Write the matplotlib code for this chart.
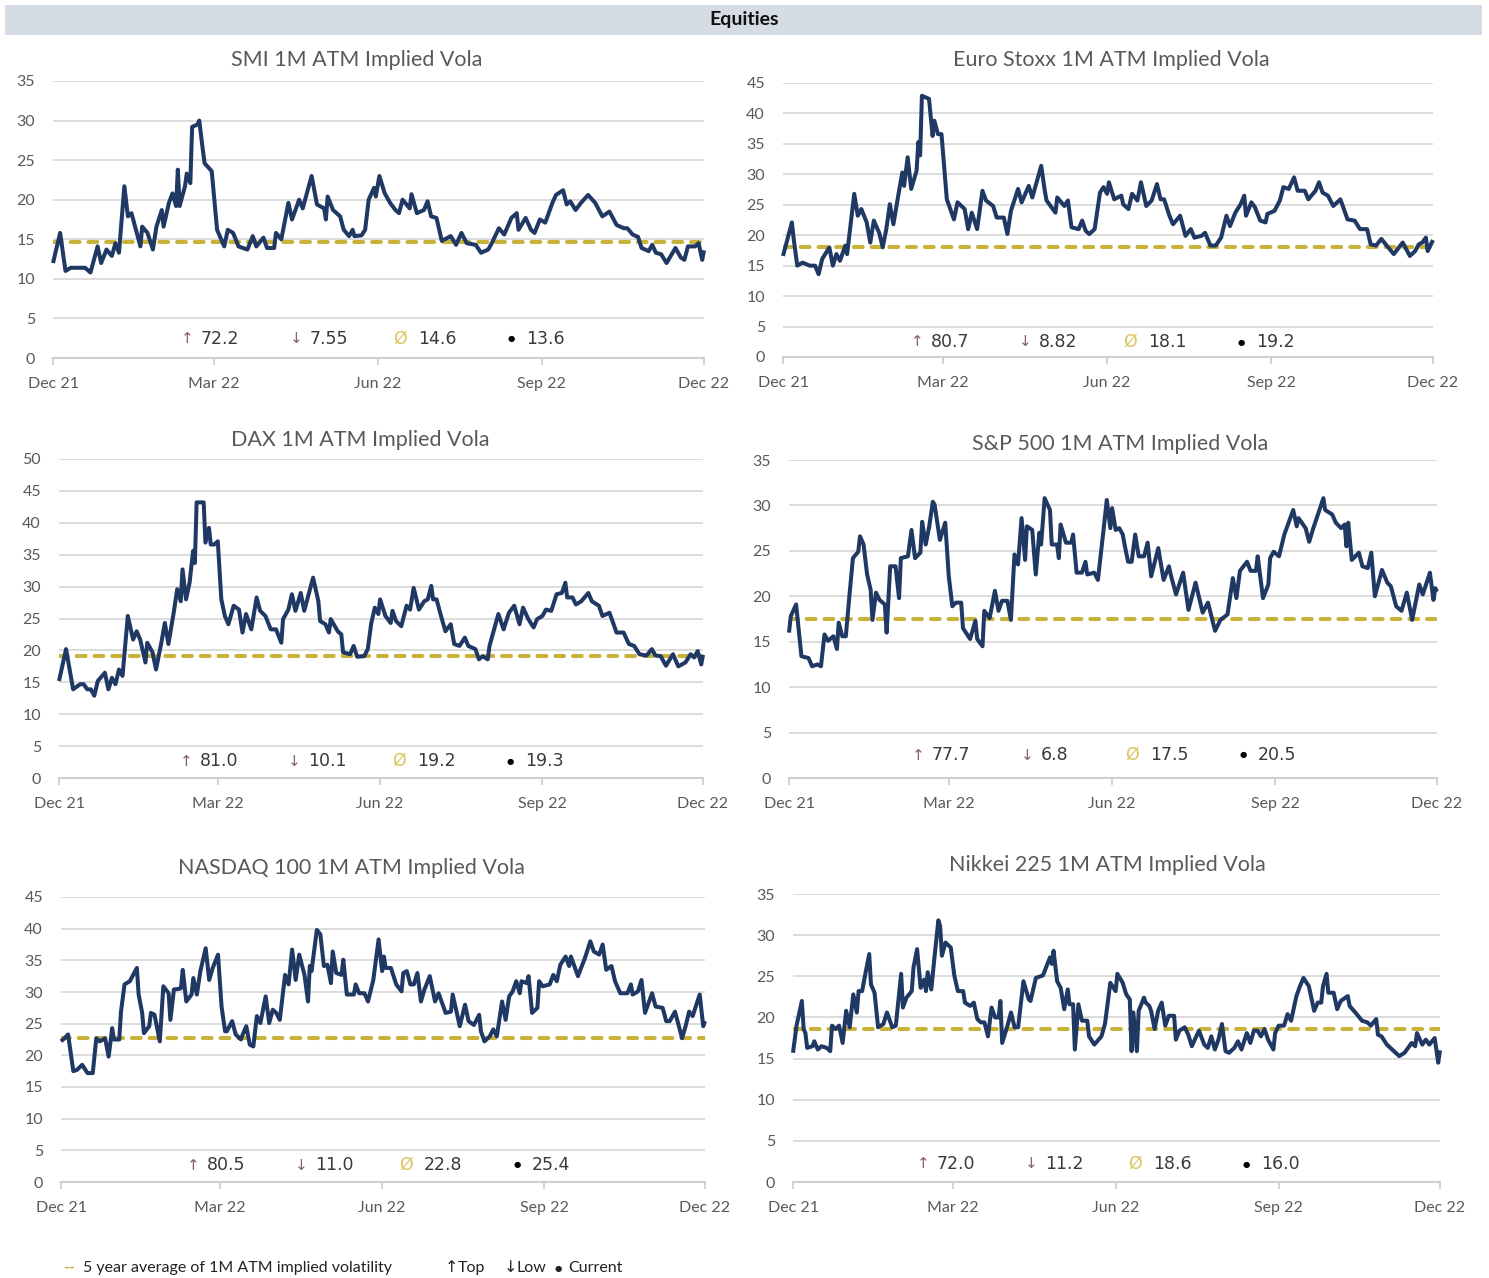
import numpy as np
import pandas as pd
import matplotlib
matplotlib.use("Agg")
import matplotlib.pyplot as plt
from matplotlib.patches import Rectangle

plt.rcParams['font.family'] = ['Lato', 'DejaVu Sans']

# ---------------- data (day offset from 2021-12-01, implied vol) ----------------
smi = [(0,12.0),(4,15.8),(7,11.0),(10,11.4),(14,11.4),(18,11.4),(21,10.8),(25,14.1),(27,12.0),(30,13.7),(33,12.9),(35,14.5),(37,13.3),(40,21.7),(42,17.9),(44,18.3),(46,16.6),(49,14.1),(50,16.6),(53,15.8),(56,13.7),(58,16.6),(61,18.7),(62,16.6),(65,19.6),(67,20.8),(69,19.2),(70,23.8),(71,19.2),(74,21.7),(75,23.3),(77,22.1),(78,29.2),(81,29.5),(82,30.0),(84,26.3),(85,24.6),(89,23.6),(92,16.2),(96,14.1),(98,16.2),(101,15.8),(104,14.1),(109,13.7),(112,15.4),(114,14.1),(118,15.2),(120,13.9),(124,13.9),(125,15.8),(128,15.0),(132,19.6),(134,17.5),(138,20.0),(140,18.9),(145,23.0),(148,19.4),(152,18.9),(153,17.5),(154,20.4),(157,18.7),(161,17.9),(163,16.2),(166,15.4),(168,16.2),(169,15.4),(173,15.5),(175,16.2),(177,20.0),(180,21.5),(181,20.4),(183,23.0),(186,20.8),(189,19.6),(192,18.7),(194,18.3),(196,20.0),(200,18.9),(201,20.7),(204,18.3),(208,18.7),(210,19.8),(212,17.9),(215,17.7),(218,14.8),(223,15.4),(226,14.3),(229,15.8),(232,14.5),(237,14.3),(240,13.3),(244,13.7),(246,14.5),(250,16.4),(253,15.6),(257,17.7),(260,18.3),(261,16.2),(265,17.7),(268,16.2),(270,15.8),(273,17.5),(276,17.1),(280,19.6),(282,20.6),(286,21.2),(288,19.4),(290,19.8),(293,18.7),(296,19.6),(300,20.6),(304,19.6),(308,17.9),(312,18.5),(316,16.8),(320,16.4),(322,16.4),(325,15.6),(328,15.3),(330,13.9),(334,13.5),(336,14.3),(338,13.3),(341,13.1),(344,12.0),(349,13.9),(352,12.7),(354,12.4),(356,14.1),(360,14.1),(362,14.5),(364,12.4),(365,13.6)]

euro = [(0,16.6),(5,22.1),(6,19.4),(8,15.0),(11,15.5),(15,15.0),(18,15.0),(20,13.6),(22,16.1),(26,18.0),(28,15.0),(30,16.9),(32,15.8),(35,18.3),(36,16.9),(40,26.8),(42,23.2),(44,24.3),(47,22.1),(49,18.8),(51,22.4),(54,20.4),(56,18.0),(58,21.0),(60,25.1),(62,21.8),(65,27.0),(67,30.3),(68,28.1),(70,32.8),(72,27.6),(75,30.6),(76,35.3),(77,33.1),(78,42.9),(82,42.4),(84,36.3),(85,38.8),(87,36.6),(89,36.6),(92,25.9),(96,22.6),(98,25.4),(102,24.3),(104,21.0),(106,23.7),(109,21.0),(112,27.3),(114,25.7),(118,24.8),(120,22.9),(124,22.9),(126,20.2),(128,24.0),(132,27.6),(134,25.4),(138,28.1),(140,26.2),(145,31.4),(147,27.3),(148,25.7),(153,23.7),(154,26.2),(158,24.8),(160,25.7),(162,21.3),(166,21.0),(168,22.4),(170,20.7),(172,20.2),(175,21.0),(178,27.0),(180,27.9),(182,26.8),(183,28.7),(186,25.9),(190,26.5),(191,25.1),(194,24.3),(196,26.8),(199,25.7),(201,28.7),(204,24.8),(207,25.7),(210,28.4),(212,25.9),(214,25.9),(217,23.2),(219,21.8),(223,23.2),(226,19.9),(229,21.0),(231,19.6),(235,19.9),(237,20.4),(240,18.3),(243,18.3),(246,19.6),(249,23.2),(251,21.5),(254,23.7),(257,25.1),(259,26.5),(260,23.2),(263,25.4),(265,24.6),(268,22.4),(271,22.1),(272,23.5),(276,24.0),(279,25.7),(281,27.9),(284,27.6),(287,29.5),(289,27.3),(293,27.3),(295,25.9),(299,27.3),(301,28.7),(303,27.0),(306,26.5),(309,24.8),(313,25.9),(317,22.6),(321,22.4),(324,21.0),(328,21.0),(330,18.5),(333,18.3),(336,19.4),(339,18.3),(343,16.9),(348,18.8),(352,16.6),(355,17.4),(357,18.5),(359,18.8),(361,19.6),(362,17.4),(365,19.2)]

dax = [(0,15.2),(4,20.2),(8,13.9),(12,14.7),(14,14.7),(16,13.9),(18,13.9),(20,12.9),(22,15.2),(26,16.5),(28,13.9),(30,15.7),(32,14.7),(34,17.0),(36,16.0),(39,25.4),(42,21.7),(44,23.0),(46,21.7),(49,18.1),(50,21.2),(53,19.7),(55,17.0),(58,21.2),(60,24.3),(62,21.0),(65,25.9),(67,29.6),(69,27.7),(70,32.7),(72,28.0),(74,30.6),(76,35.6),(77,33.7),(78,43.2),(82,43.2),(83,36.9),(85,39.2),(86,36.6),(88,36.6),(90,37.1),(92,28.0),(94,25.4),(96,24.1),(99,27.0),(102,26.4),(104,22.8),(106,25.7),(109,23.3),(112,28.3),(114,26.2),(117,25.4),(120,23.3),(123,23.3),(126,21.2),(127,24.9),(130,26.4),(132,28.8),(134,26.2),(137,29.0),(139,26.2),(141,28.3),(144,31.4),(147,27.7),(148,24.6),(151,24.1),(153,22.8),(154,24.9),(158,23.0),(160,22.5),(161,19.7),(165,19.4),(167,20.7),(169,19.0),(173,19.1),(175,20.2),(177,24.3),(179,26.7),(181,25.7),(182,28.0),(185,25.4),(188,24.3),(189,26.2),(191,24.6),(194,23.8),(197,27.0),(199,26.4),(201,29.8),(204,26.4),(207,27.7),(209,28.0),(211,30.1),(212,28.0),(214,28.0),(216,25.9),(219,23.0),(222,24.1),(224,21.0),(227,20.7),(230,22.0),(232,20.7),(236,20.2),(238,18.6),(240,19.1),(243,18.6),(244,20.7),(249,25.7),(252,23.3),(255,25.9),(258,27.0),(261,24.1),(263,26.7),(266,24.9),(269,23.6),(271,24.9),(274,25.4),(276,26.4),(279,26.2),(282,28.8),(285,29.0),(287,30.6),(288,28.3),(291,28.3),(293,27.2),(296,27.7),(300,29.0),(302,27.7),(306,27.0),(308,25.4),(312,25.9),(316,22.8),(320,22.8),(323,21.0),(326,20.7),(329,19.4),(333,19.2),(336,20.2),(338,19.2),(341,19.1),(344,17.6),(348,19.4),(351,17.5),(355,18.1),(358,19.4),(360,18.9),(362,19.9),(364,17.8),(365,19.3)]

spx = [(0,16.0),(1,17.8),(4,19.1),(7,13.4),(11,13.2),(13,12.3),(16,12.5),(18,12.3),(20,15.8),(22,15.1),(25,15.6),(27,14.2),(28,17.1),(30,15.6),(32,15.6),(34,20.0),(36,24.2),(39,24.9),(40,26.6),(42,25.7),(44,22.4),(46,20.7),(47,17.4),(49,20.4),(51,19.6),(54,19.1),(55,16.0),(57,23.3),(60,23.3),(62,19.8),(63,24.2),(67,24.4),(69,27.3),(71,24.2),(74,24.8),(75,28.2),(77,25.7),(79,27.7),(81,30.4),(82,30.1),(85,26.2),(88,28.1),(90,22.2),(92,18.9),(94,19.3),(97,19.3),(98,16.5),(102,15.3),(105,17.3),(106,15.3),(109,14.5),(110,18.4),(113,17.6),(116,20.6),(118,18.4),(120,19.5),(123,19.5),(125,17.4),(127,24.6),(129,23.5),(131,28.6),(133,24.0),(134,27.7),(137,27.3),(139,22.4),(141,27.0),(142,25.7),(144,30.8),(147,29.5),(148,25.7),(151,25.7),(152,24.2),(153,27.9),(156,25.9),(159,25.9),(160,26.8),(162,22.6),(165,22.6),(167,23.8),(168,22.4),(172,22.6),(174,21.8),(177,27.0),(179,30.6),(181,27.5),(182,29.7),(184,27.3),(186,27.5),(188,26.8),(189,25.7),(191,23.8),(193,23.8),(195,26.8),(197,24.4),(200,24.4),(202,25.9),(204,22.2),(208,25.3),(211,21.8),(214,23.3),(215,22.4),(218,20.2),(222,22.6),(225,18.5),(229,21.5),(233,18.2),(236,19.3),(240,16.2),(243,17.4),(247,18.0),(250,22.0),(252,19.8),(254,22.8),(258,23.8),(260,22.8),(263,22.8),(264,24.4),(267,19.8),(270,21.3),(271,24.2),(273,24.9),(276,24.4),(279,26.8),(284,29.5),(286,27.7),(287,28.6),(291,27.5),(293,26.0),(295,27.3),(301,30.8),(302,29.5),(306,29.0),(308,28.1),(311,27.5),(313,27.9),(314,25.5),(315,28.1),(317,24.0),(321,24.8),(323,23.3),(326,23.1),(328,24.8),(330,20.0),(334,22.9),(337,21.5),(339,21.1),(342,18.9),(345,18.4),(348,20.4),(351,17.4),(355,21.3),(357,20.2),(361,22.6),(363,19.6),(364,20.9),(365,20.5)]

ndx = [(0,22.2),(2,22.7),(4,23.3),(7,17.5),(9,17.7),(12,18.5),(15,17.2),(18,17.2),(20,22.7),(22,22.2),(25,22.7),(27,19.8),(29,24.3),(30,22.5),(33,22.5),(34,26.9),(36,31.2),(39,31.7),(43,33.8),(44,29.6),(46,26.7),(47,23.5),(50,24.6),(51,26.7),(53,26.4),(56,22.2),(58,30.9),(61,29.8),(62,25.6),(64,30.4),(67,30.5),(68,30.6),(69,33.5),(71,28.5),(74,29.6),(75,32.2),(77,29.6),(79,33.3),(82,36.9),(84,31.9),(86,33.8),(89,35.9),(91,27.7),(93,23.8),(94,23.8),(97,25.4),(99,23.3),(102,22.5),(103,23.3),(105,24.6),(107,21.7),(109,21.4),(111,26.2),(113,25.1),(116,29.3),(118,25.1),(120,27.2),(122,26.7),(124,25.6),(127,32.7),(129,31.2),(131,36.7),(133,31.9),(135,35.9),(138,32.7),(140,28.5),(141,34.1),(142,33.3),(145,39.8),(147,39.1),(149,34.1),(151,34.3),(153,31.4),(154,36.4),(156,33.0),(159,32.7),(160,35.1),(162,29.6),(166,29.6),(167,31.2),(169,29.8),(172,29.8),(174,28.5),(177,31.9),(180,38.3),(182,33.3),(183,35.6),(184,33.8),(187,33.8),(190,31.2),(193,30.1),(194,33.0),(196,33.3),(198,31.2),(200,31.2),(202,33.0),(204,28.5),(206,30.4),(209,32.5),(212,28.5),(214,29.8),(218,26.7),(221,26.9),(222,29.6),(226,24.6),(229,28.0),(231,25.4),(234,24.8),(237,26.4),(238,23.8),(240,22.2),(243,23.0),(245,24.1),(247,23.0),(250,28.5),(252,25.6),(254,29.3),(256,30.1),(258,31.7),(260,29.8),(261,31.7),(264,31.4),(265,32.5),(267,26.7),(270,27.5),(271,31.7),(273,30.9),(277,31.2),(279,32.7),(281,31.7),(283,34.3),(286,35.6),(288,34.1),(289,35.6),(293,32.5),(297,35.4),(300,38.0),(302,36.4),(305,35.9),(307,37.5),(309,33.5),(312,34.1),(314,31.7),(317,29.8),(321,29.8),(323,31.2),(324,29.6),(327,30.1),(329,31.9),(331,26.7),(335,29.8),(337,27.7),(341,27.5),(343,25.4),(345,25.4),(348,26.9),(352,22.7),(354,24.6),(356,26.9),(358,26.2),(362,29.6),(364,24.6),(365,25.4)]

nky = [(0,15.7),(2,19.0),(5,22.0),(6,18.6),(7,18.1),(8,16.3),(11,16.5),(12,17.1),(14,16.1),(16,16.5),(19,16.3),(21,15.9),(22,19.0),(24,18.6),(26,19.0),(28,16.9),(30,20.8),(32,18.8),(34,22.8),(36,20.6),(37,23.2),(39,23.2),(41,25.5),(43,27.7),(44,24.0),(46,23.0),(48,18.8),(51,19.2),(53,20.6),(56,18.8),(58,19.0),(61,25.3),(62,21.2),(64,22.4),(67,23.2),(68,26.1),(70,28.3),(72,23.6),(74,24.6),(75,23.2),(76,25.5),(78,23.4),(80,27.7),(82,31.8),(83,31.1),(84,27.5),(86,29.1),(89,28.5),(91,25.1),(93,23.2),(96,23.2),(97,21.8),(100,21.4),(102,21.8),(104,19.8),(106,19.4),(108,19.4),(110,17.7),(112,21.2),(114,20.0),(116,20.0),(117,22.0),(118,16.9),(121,19.0),(123,20.6),(125,18.8),(127,18.8),(130,24.4),(133,22.2),(134,22.0),(137,24.8),(141,25.1),(145,27.3),(146,26.5),(147,28.1),(149,24.4),(151,23.6),(153,21.0),(155,23.4),(156,21.6),(158,21.6),(159,16.1),(161,21.6),(163,19.6),(166,19.6),(167,17.7),(170,16.7),(174,17.7),(176,19.2),(179,24.2),(182,23.2),(183,25.3),(186,24.2),(188,22.8),(190,22.2),(191,15.9),(192,20.6),(194,15.9),(195,20.8),(198,22.4),(199,21.8),(201,21.4),(202,20.8),(204,18.6),(206,20.8),(208,21.8),(210,19.0),(212,20.2),(215,20.2),(216,17.3),(218,18.4),(221,18.8),(223,17.9),(225,16.5),(229,18.4),(232,16.7),(234,16.3),(236,17.7),(238,16.1),(240,17.3),(242,19.2),(244,15.9),(246,15.7),(249,16.3),(251,17.1),(253,16.1),(256,18.1),(258,16.9),(260,18.4),(262,18.4),(264,17.7),(266,18.6),(268,17.3),(271,16.1),(272,18.1),(274,19.0),(277,19.0),(279,20.4),(281,19.6),(284,22.6),(286,23.8),(288,24.8),(291,23.8),(293,21.8),(294,20.8),(296,21.8),(298,21.8),(299,23.8),(301,25.3),(302,23.0),(305,23.0),(307,21.0),(309,22.0),(313,22.6),(314,21.4),(318,20.4),(321,19.6),(324,19.4),(326,19.0),(329,19.8),(330,17.9),(332,17.7),(335,16.7),(339,15.9),(342,15.3),(345,15.7),(349,16.9),(351,16.5),(352,18.1),(355,16.7),(357,17.3),(359,16.7),(362,17.5),(364,14.5),(365,16.0)]

titles = ["SMI 1M ATM Implied Vola", "Euro Stoxx 1M ATM Implied Vola",
          "DAX 1M ATM Implied Vola", "S&P 500 1M ATM Implied Vola",
          "NASDAQ 100 1M ATM Implied Vola", "Nikkei 225 1M ATM Implied Vola"]
series = [smi, euro, dax, spx, ndx, nky]
five_year_avg = [14.6, 18.1, 19.2, 17.5, 22.8, 18.6]
top_vals = ["72.2", "80.7", "81.0", "77.7", "80.5", "72.0"]
low_vals = ["7.55", "8.82", "10.1", "6.8", "11.0", "11.2"]
avg_labels = ["14.6", "18.1", "19.2", "17.5", "22.8", "18.6"]
cur_vals = ["13.6", "19.2", "19.3", "20.5", "25.4", "16.0"]
y_max = [35, 45, 50, 35, 45, 35]
tick_dates = ["2021-12-01", "2022-03-01", "2022-06-01", "2022-09-01", "2022-12-01"]
tick_labels = ["Dec 21", "Mar 22", "Jun 22", "Sep 22", "Dec 22"]

# ---------------- layout (pixels of a 1489x1278 canvas) ----------------
W, H = 1489, 1278
boxes = [(53, 704, 81, 358), (783, 1433, 83, 357),
         (59, 703, 459, 778), (789, 1437, 460, 778),
         (61, 705, 897, 1182), (793, 1440, 894, 1182)]
title_pos = [(357, 60), (1111, 60), (360, 440), (1120, 444), (351, 868), (1107, 865)]
stat_y = [339, 342, 761, 755, 1165, 1164]
stat_x = [(187, 296, 400, 511), (917, 1025, 1130, 1241), (186, 294, 399, 510),
          (918, 1027, 1132, 1243), (193, 301, 406, 517), (923, 1031, 1135, 1246)]

NAVY = "#203864"
GOLD = "#c9b23a"
GRID = "#d9d9d9"
TXT = "#595959"

fig = plt.figure(figsize=(W / 100, H / 100), dpi=100)

def fx(x):
    return x / W

def fy(y):
    return 1 - y / H

# header band
fig.patches.append(Rectangle((fx(5), fy(35)), fx(1482) - fx(5), fy(5) - fy(35),
                             transform=fig.transFigure, facecolor="#d6dce4",
                             edgecolor="none", zorder=0))
fig.text(fx(744), fy(20), "Equities", ha="center", va="center",
         fontsize=14, fontweight="bold", color="#111111")

base = pd.Timestamp("2021-12-01")
tick_x = pd.to_datetime(tick_dates)

for i, ser in enumerate(series):
    l, r, t, b = boxes[i]
    ax = fig.add_axes([fx(l), fy(b), fx(r) - fx(l), fy(t) - fy(b)])
    days = [d for d, v in ser]
    vals = [v for d, v in ser]
    dates = base + pd.to_timedelta(days, unit="D")
    ax.set_xlim(tick_x[0], tick_x[-1])
    ax.set_ylim(0, y_max[i])
    ax.set_yticks(np.arange(0, y_max[i] + 1, 5))
    ax.grid(axis="y", color=GRID, lw=1.3)
    ax.set_axisbelow(True)
    for s in ["top", "right", "left"]:
        ax.spines[s].set_visible(False)
    ax.spines["bottom"].set_color("#cfcfcf")
    ax.spines["bottom"].set_linewidth(1.5)
    ax.tick_params(axis="y", length=0, pad=13, labelsize=11.5, labelcolor=TXT)
    ax.tick_params(axis="x", length=5, width=1.3, color="#cfcfcf", pad=9,
                   labelsize=11.5, labelcolor=TXT)
    ax.set_xticks(tick_x)
    ax.set_xticklabels(tick_labels)
    ax.axhline(five_year_avg[i], color=GOLD, lw=2.9, linestyle=(0, (2.2, 2.2)),
               dash_capstyle="round", zorder=2)
    ax.plot(dates, vals, color=NAVY, lw=2.9, zorder=3, clip_on=False,
            solid_joinstyle="round", solid_capstyle="butt")

    tx, ty = title_pos[i]
    fig.text(fx(tx), fy(ty), titles[i], ha="center", va="center",
             fontsize=15.5, color=TXT)

    sy = fy(stat_y[i])
    xu, xd, xa, xc = stat_x[i]
    fig.text(fx(xu), sy, "↑", ha="center", va="center", fontsize=11,
             color="#8a6060", family="DejaVu Sans")
    fig.text(fx(xu + 14), sy, top_vals[i], ha="left", va="center", fontsize=12.5,
             color="#3a3a3a", family="DejaVu Sans")
    fig.text(fx(xd), sy, "↓", ha="center", va="center", fontsize=11,
             color="#8a6060", family="DejaVu Sans")
    fig.text(fx(xd + 14), sy, low_vals[i], ha="left", va="center", fontsize=12.5,
             color="#3a3a3a", family="DejaVu Sans")
    fig.text(fx(xa), sy, "Ø", ha="center", va="center", fontsize=12.5,
             color="#dcc35a", family="DejaVu Sans")
    fig.text(fx(xa + 18), sy, avg_labels[i], ha="left", va="center", fontsize=12.5,
             color="#3a3a3a", family="DejaVu Sans")
    fig.text(fx(xc), sy, "●", ha="center", va="center", fontsize=6,
             color="#000000", family="DejaVu Sans")
    fig.text(fx(xc + 15), sy, cur_vals[i], ha="left", va="center", fontsize=12.5,
             color="#3a3a3a", family="DejaVu Sans")

# bottom legend
ly = fy(1268)
fig.text(fx(63), ly, "--", ha="left", va="center", fontsize=11.5, color=GOLD,
         fontweight="bold")
fig.text(fx(83), ly, "5 year average of 1M ATM implied volatility", ha="left",
         va="center", fontsize=11.5, color="#222222")
fig.text(fx(445), ly, "↑", ha="left", va="center", fontsize=11.5, color="#222222",
         family="DejaVu Sans")
fig.text(fx(458), ly, "Top", ha="left", va="center", fontsize=11.5, color="#222222")
fig.text(fx(504), ly, "↓", ha="left", va="center", fontsize=11.5, color="#222222",
         family="DejaVu Sans")
fig.text(fx(517), ly, "Low", ha="left", va="center", fontsize=11.5, color="#222222")
fig.text(fx(555), ly, "●", ha="left", va="center", fontsize=6, color="#222222",
         family="DejaVu Sans")
fig.text(fx(568), ly, "Current", ha="left", va="center", fontsize=11.5, color="#222222")

fig.savefig("out.png", dpi=100, facecolor="white")
